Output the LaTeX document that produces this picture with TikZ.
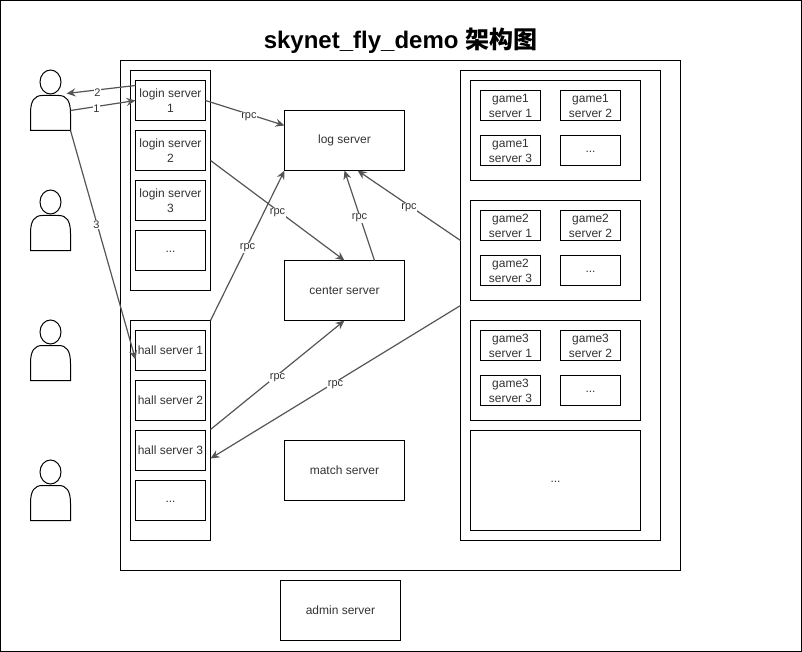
\documentclass[tikz,border=0pt]{standalone}
\usepackage{xcolor}
\usepackage{fontspec}
\usetikzlibrary{positioning,arrows.meta}
\setmainfont{Liberation Sans}
\newfontfamily\cjkfont{Noto Sans CJK SC}
\definecolor{linegray}{HTML}{555555}
\definecolor{textgray}{HTML}{333333}
\newcommand{\moredots}{\smash{\raisebox{-2pt}{...}}}

\begin{document}
\begin{tikzpicture}[x=1pt,y=-1pt,line width=1pt,on grid,>={Stealth[length=9pt,width=8pt,inset=3pt]},
    every node/.style={font=\fontsize{12}{15}\selectfont,text=textgray},
    every edge/.append style={draw=linegray,line width=1.2pt},
    box/.style={draw=black,inner sep=0pt,outer sep=0pt,align=center},
    server/.style={box,minimum width=70pt,minimum height=40pt},
    bigserver/.style={box,minimum width=120pt,minimum height=60pt},
    gamebox/.style={box,minimum width=60pt,minimum height=30pt},
    gamegroup/.style={box,minimum width=170pt,minimum height=100pt},
    groupbox/.style={box,minimum width=80pt,minimum height=220pt},
    usernode/.style={inner sep=0pt,outer sep=0pt,minimum width=40pt,minimum height=60pt},
    lbl/.style={font=\fontsize{11}{13}\selectfont,fill=white,inner sep=0.5pt,text=textgray,yshift=-2.5pt}]
    \useasboundingbox (0,0) rectangle (802,652);
    \node[box,minimum width=800.5pt,minimum height=650.5pt] (page) at (400.75,325.75) {};
    \node[font=\fontsize{24}{28}\selectfont\bfseries,text=black] (title) at (400.5,41) {skynet\_fly\_demo {\cjkfont 架构图}};
    \node[box,minimum width=560pt,minimum height=510pt] (cluster) at (400.5,315.5) {};

    % login servers
    \node[groupbox] (logingroup) at (170.5,180.5) {};
    \node[server] (login1) at (170.5,100.5) {login server\\1};
    \node[server] (login2) [below=50pt of login1] {login server\\2};
    \node[server] (login3) [below=50pt of login2] {login server\\3};
    \node[server] (loginmore) [below=50pt of login3] {\moredots};

    % hall servers
    \node[groupbox] (hallgroup) at (170.5,430.5) {};
    \node[server] (hall1) at (170.5,350.5) {hall server 1};
    \node[server] (hall2) [below=50pt of hall1] {hall server 2};
    \node[server] (hall3) [below=50pt of hall2] {hall server 3};
    \node[server] (hallmore) [below=50pt of hall3] {\moredots};

    % middle column
    \node[bigserver] (log) at (344.5,140.5) {log server};
    \node[bigserver] (center) [below=150pt of log] {center server};
    \node[bigserver] (match) [below=180pt of center] {match server};
    \node[bigserver] (admin) at (340.5,610.5) {admin server};

    % game servers
    \node[box,minimum width=200pt,minimum height=470pt] (gameall) at (560.5,305.5) {};
    \foreach \g/\y in {1/130.5,2/250.5,3/370.5} {
        \node[gamegroup] (game\g) at (555.5,\y) {};
        \node[gamebox] (game\g a) at (510.5,\y-25) {game\g\\server 1};
        \node[gamebox] (game\g b) [right=80pt of game\g a] {game\g\\server 2};
        \node[gamebox] (game\g c) [below=45pt of game\g a] {game\g\\server 3};
        \node[gamebox] (game\g d) [right=80pt of game\g c] {\moredots};
    }
    \node[gamegroup] (gamemore) at (555.5,480.5) {\moredots};

    % users
    \foreach \u/\y in {user1/100.5,user2/220.5,user3/350.5,user4/490.5} {
        \node[usernode] (\u) at (50.5,\y) {};
        \draw ([yshift=18.5pt]\u.center) ellipse [x radius=10.5pt,y radius=12pt];
        \draw[fill=white] (\u.south west) -- ([yshift=17pt]\u.south west)
            .. controls ([yshift=30pt]\u.south west) and ([xshift=4pt,yshift=35pt]\u.south west) .. ([xshift=12pt,yshift=35pt]\u.south west)
            -- ([xshift=-12pt,yshift=35pt]\u.south east)
            .. controls ([xshift=-4pt,yshift=35pt]\u.south east) and ([yshift=30pt]\u.south east) .. ([yshift=17pt]\u.south east)
            -- (\u.south east) -- cycle;
    }

    % connectors
    \path[->]
    ([yshift=15pt]login1.west) edge node[lbl,pos=.55] {2} ([xshift=-4pt,yshift=7pt]user1.east)
    ([yshift=-10pt]user1.east) edge node[lbl,pos=.4] {1} (login1.west)
    (user1.south east) edge node[lbl,pos=.4] {3} ([yshift=-9pt]hall1.west)
    (login1.east) edge node[lbl,pos=.55] {rpc} ([yshift=15pt]log.west)
    ([yshift=20pt]logingroup.east) edge node[lbl] {rpc} (center.north)
    (hallgroup.north east) edge node[lbl] {rpc} (log.south west)
    ([yshift=1pt]hallgroup.east) edge node[lbl] {rpc} (center.south)
    ([xshift=30pt]center.north) edge node[lbl] {rpc} (log.south)
    ([yshift=65pt]gameall.west) edge node[lbl] {rpc} ([xshift=13pt]log.south)
    (gameall.west) edge node[lbl] {rpc} ([yshift=-28pt]hallgroup.east);
\end{tikzpicture}
\end{document}
